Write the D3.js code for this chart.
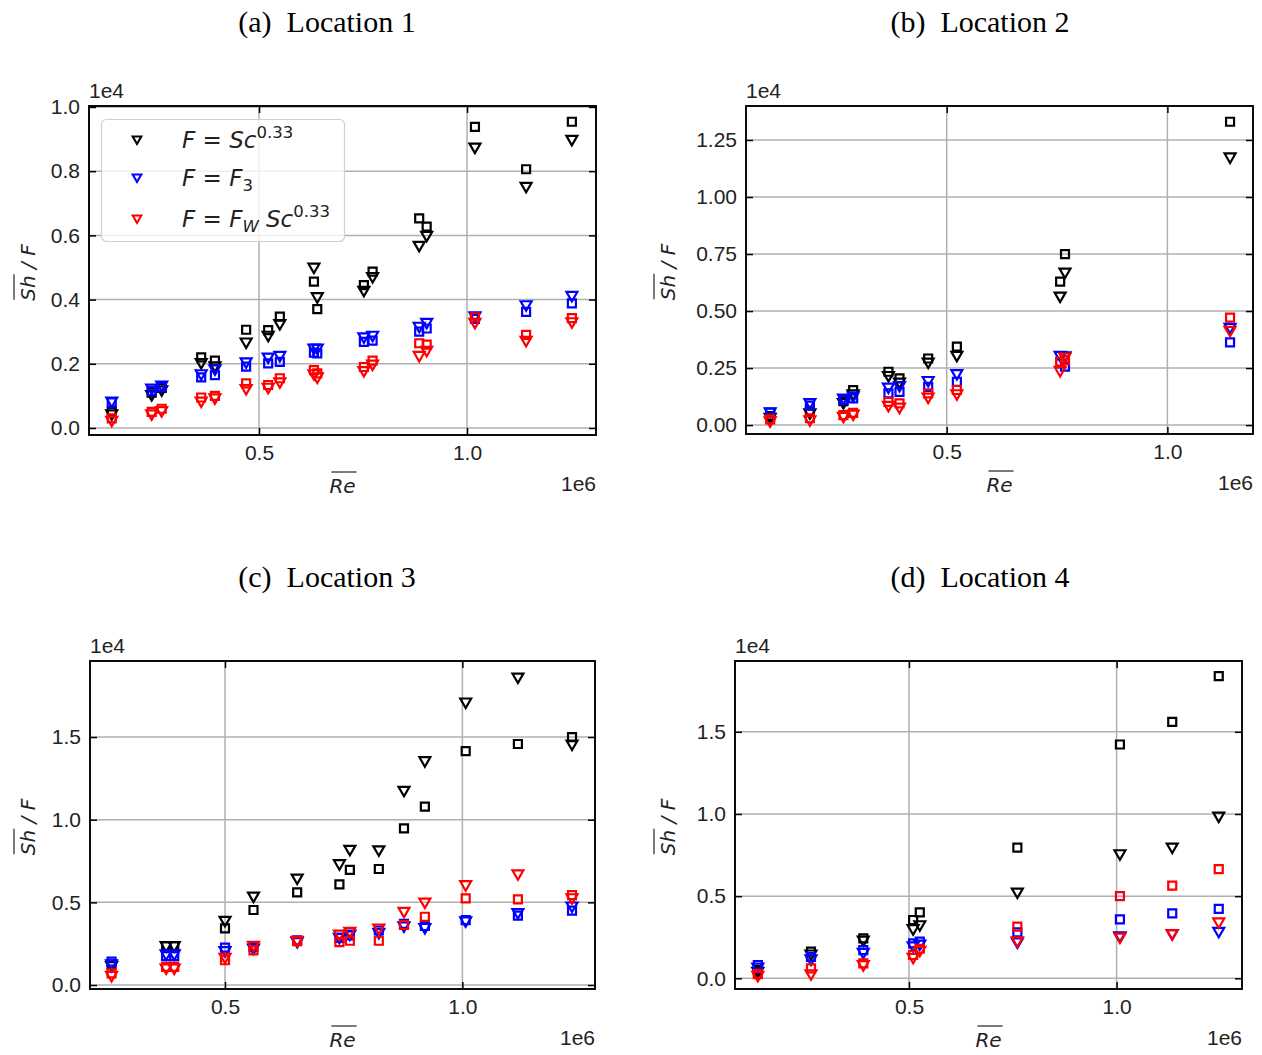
<!DOCTYPE html>
<html><head><meta charset="utf-8">
<script src="https://cdn.jsdelivr.net/npm/d3@7"></script>
<style>body{margin:0;background:#fff}</style>
</head><body>
<svg id="chart" width="1262" height="1055" xmlns="http://www.w3.org/2000/svg"></svg>
<script>
// ---------------- DATA (Re in 1e6, Sh/F in 1e4) ----------------
const panelTitles = ["(a)  Location 1", "(b)  Location 2", "(c)  Location 3", "(d)  Location 4"];
const seriesColors = ["#000000", "#0000ff", "#ff0000"];
const legendLabels = ["Sc", "F3", "FwSc"];
const xTickValues = [0.5, 1.0];
const yTicksA = [0, 0.2, 0.4, 0.6, 0.8, 1.0];
const yTicksB = [0, 0.25, 0.5, 0.75, 1.0, 1.25];
const yTicksC = [0, 0.5, 1.0, 1.5];
const yTicksD = [0, 0.5, 1.0, 1.5];

// Panel (a)
const reA       = [0.146, 0.242, 0.266, 0.361, 0.394, 0.469, 0.522, 0.550, 0.632, 0.640, 0.752, 0.773, 0.885, 0.903, 1.019, 1.142, 1.252];
const blackTriA = [0.045, 0.105, 0.120, 0.205, 0.195, 0.269, 0.290, 0.326, 0.502, 0.410, 0.430, 0.473, 0.570, 0.601, 0.876, 0.754, 0.900];
const blackSqA  = [0.050, 0.110, 0.125, 0.220, 0.210, 0.306, 0.305, 0.347, 0.456, 0.370, 0.445, 0.487, 0.653, 0.627, 0.938, 0.806, 0.954];
const blueTriA  = [0.085, 0.125, 0.135, 0.170, 0.185, 0.207, 0.222, 0.227, 0.250, 0.250, 0.285, 0.290, 0.318, 0.330, 0.350, 0.385, 0.414];
const blueSqA   = [0.080, 0.115, 0.128, 0.158, 0.165, 0.191, 0.201, 0.206, 0.235, 0.232, 0.268, 0.272, 0.300, 0.310, 0.340, 0.362, 0.388];
const redTriA   = [0.025, 0.045, 0.055, 0.085, 0.095, 0.124, 0.128, 0.145, 0.170, 0.160, 0.180, 0.200, 0.227, 0.243, 0.330, 0.274, 0.332];
const redSqA    = [0.030, 0.050, 0.060, 0.095, 0.100, 0.139, 0.134, 0.155, 0.180, 0.170, 0.190, 0.210, 0.264, 0.260, 0.345, 0.290, 0.342];

// Panel (b)
const reB       = [0.100, 0.190, 0.266, 0.288, 0.368, 0.393, 0.458, 0.523, 0.757, 0.768, 1.142];
const blackTriB = [0.035, 0.055, 0.100, 0.139, 0.219, 0.190, 0.278, 0.307, 0.567, 0.672, 1.177];
const blackSqB  = [0.040, 0.060, 0.105, 0.153, 0.234, 0.205, 0.292, 0.344, 0.629, 0.750, 1.330];
const blueTriB  = [0.060, 0.100, 0.120, 0.130, 0.168, 0.175, 0.197, 0.227, 0.307, 0.305, 0.430];
const blueSqB   = [0.055, 0.085, 0.110, 0.117, 0.139, 0.146, 0.168, 0.190, 0.270, 0.256, 0.363];
const redTriB   = [0.020, 0.025, 0.040, 0.050, 0.088, 0.080, 0.124, 0.139, 0.241, 0.300, 0.417];
const redSqB    = [0.025, 0.030, 0.044, 0.054, 0.102, 0.095, 0.139, 0.154, 0.278, 0.285, 0.471];

// Panel (c)
const reC       = [0.261, 0.376, 0.393, 0.500, 0.560, 0.652, 0.741, 0.763, 0.824, 0.877, 0.921, 1.007, 1.117, 1.231];
const blackTriC = [0.120, 0.240, 0.240, 0.393, 0.540, 0.649, 0.736, 0.823, 0.820, 1.180, 1.359, 1.714, 1.865, 1.460];
const blackSqC  = [0.125, 0.235, 0.235, 0.343, 0.454, 0.560, 0.609, 0.696, 0.702, 0.948, 1.079, 1.415, 1.458, 1.500];
const blueTriC  = [0.130, 0.190, 0.190, 0.210, 0.225, 0.265, 0.290, 0.310, 0.320, 0.360, 0.350, 0.390, 0.440, 0.480];
const blueSqC   = [0.141, 0.175, 0.175, 0.226, 0.230, 0.270, 0.285, 0.300, 0.330, 0.370, 0.357, 0.393, 0.420, 0.450];
const redTriC   = [0.060, 0.105, 0.105, 0.170, 0.242, 0.272, 0.310, 0.327, 0.347, 0.448, 0.504, 0.609, 0.675, 0.530];
const redSqC    = [0.070, 0.110, 0.110, 0.150, 0.210, 0.265, 0.260, 0.268, 0.268, 0.363, 0.413, 0.524, 0.518, 0.544];

// Panel (d)
const reD       = [0.136, 0.264, 0.390, 0.510, 0.526, 0.761, 1.008, 1.134, 1.246];
const blackTriD = [0.045, 0.150, 0.235, 0.304, 0.328, 0.527, 0.760, 0.801, 0.989];
const blackSqD  = [0.050, 0.162, 0.243, 0.355, 0.401, 0.795, 1.423, 1.561, 1.839];
const blueTriD  = [0.070, 0.120, 0.160, 0.200, 0.210, 0.223, 0.260, 0.274, 0.288];
const blueSqD   = [0.081, 0.130, 0.172, 0.213, 0.223, 0.280, 0.359, 0.395, 0.422];
const redTriD   = [0.020, 0.030, 0.085, 0.130, 0.172, 0.230, 0.253, 0.274, 0.345];
const redSqD    = [0.025, 0.060, 0.091, 0.142, 0.180, 0.314, 0.500, 0.564, 0.665];

// ---------------- LAYOUT ----------------
const layouts = [
  {left: 89,  right: 596,  top: 106, bottom: 435, titleX: 327, xDom: [0.0913, 1.310], yDom: [-0.0218, 1.003], yTicks: yTicksA, fmt: ".1f", ylabX: 35,
   re: reA, series: [blackTriA, blackSqA, blueTriA, blueSqA, redTriA, redSqA], legend: true},
  {left: 746, right: 1253, top: 106, bottom: 434, titleX: 980, xDom: [0.0452, 1.194], yDom: [-0.039, 1.399], yTicks: yTicksB, fmt: ".2f", ylabX: 675,
   re: reB, series: [blackTriB, blackSqB, blueTriB, blueSqB, redTriB, redSqB]},
  {left: 90,  right: 595,  top: 661, bottom: 989, titleX: 327, xDom: [0.2156, 1.2794], yDom: [-0.024, 1.96], yTicks: yTicksC, fmt: ".1f", ylabX: 35,
   re: reC, series: [blackTriC, blackSqC, blueTriC, blueSqC, redTriC, redSqC]},
  {left: 735, right: 1242, top: 661, bottom: 989, titleX: 980, xDom: [0.081, 1.302], yDom: [-0.065, 1.931], yTicks: yTicksD, fmt: ".1f", ylabX: 675,
   re: reD, series: [blackTriD, blackSqD, blueTriD, blueSqD, redTriD, redSqD]}
];

const svg = d3.select("#chart");
const SANS = "'Liberation Sans', Arial, sans-serif";
const MATH = "'DejaVu Sans', sans-serif";
const triPath = d3.symbol(d3.symbolTriangle, 52)();
const sqPath = d3.symbol(d3.symbolSquare, 64)();
const legTriPath = d3.symbol(d3.symbolTriangle, 32)();

function drawPanel(p, i) {
  const x = d3.scaleLinear().domain(p.xDom).range([p.left, p.right]);
  const y = d3.scaleLinear().domain(p.yDom).range([p.bottom, p.top]);
  const g = svg.append("g");

  // title
  g.append("text").attr("x", p.titleX).attr("y", p.top - 74)
    .attr("text-anchor", "middle").attr("font-family", "'Liberation Serif', 'Times New Roman', serif")
    .attr("font-size", 30).attr("xml:space", "preserve").style("white-space", "pre").text(panelTitles[i]);

  // grid
  g.append("g").selectAll("line").data(xTickValues).join("line")
    .attr("x1", d => x(d)).attr("x2", d => x(d)).attr("y1", p.top).attr("y2", p.bottom)
    .attr("stroke", "#b0b0b0").attr("stroke-width", 1.5);
  g.append("g").selectAll("line").data(p.yTicks).join("line")
    .attr("y1", d => y(d)).attr("y2", d => y(d)).attr("x1", p.left).attr("x2", p.right)
    .attr("stroke", "#b0b0b0").attr("stroke-width", 1.5);

  // axes (ticks inward)
  const ax = [
    g.append("g").attr("transform", `translate(0,${p.bottom})`)
      .call(d3.axisBottom(x).tickValues(xTickValues).tickFormat(d3.format(".1f")).tickSizeInner(-7).tickSizeOuter(0).tickPadding(10)),
    g.append("g").attr("transform", `translate(0,${p.top})`)
      .call(d3.axisTop(x).tickValues(xTickValues).tickFormat("").tickSizeInner(-7).tickSizeOuter(0)),
    g.append("g").attr("transform", `translate(${p.left},0)`)
      .call(d3.axisLeft(y).tickValues(p.yTicks).tickFormat(d3.format(p.fmt)).tickSizeInner(-7).tickSizeOuter(0).tickPadding(9)),
    g.append("g").attr("transform", `translate(${p.right},0)`)
      .call(d3.axisRight(y).tickValues(p.yTicks).tickFormat("").tickSizeInner(-7).tickSizeOuter(0))
  ];
  ax.forEach(a => {
    a.select(".domain").remove();
    a.attr("font-family", SANS).attr("font-size", 21);
    a.selectAll("line").attr("stroke", "#000").attr("stroke-width", 1.5);
    a.selectAll("text").attr("fill", "#222");
  });

  // frame
  g.append("rect").attr("x", p.left).attr("y", p.top).attr("width", p.right - p.left).attr("height", p.bottom - p.top)
    .attr("fill", "none").attr("stroke", "#000").attr("stroke-width", 1.9);

  // multipliers
  g.append("text").attr("x", p.left).attr("y", p.top - 8).attr("font-family", SANS).attr("font-size", 21).attr("fill", "#222").text("1e4");
  g.append("text").attr("x", p.right).attr("y", p.bottom + 56).attr("text-anchor", "end").attr("font-family", SANS).attr("font-size", 21).attr("fill", "#222").text("1e6");

  // x label
  const cx = (p.left + p.right) / 2;
  const xl = g.append("text").attr("x", cx).attr("y", p.bottom + 58).attr("text-anchor", "middle")
    .attr("font-family", MATH).attr("font-style", "italic").attr("font-size", 20).attr("fill", "#222").text("Re");
  const xw = xl.node().getComputedTextLength();
  g.append("line").attr("x1", cx - xw / 2 + 2).attr("x2", cx + xw / 2 + 1).attr("y1", p.bottom + 37).attr("y2", p.bottom + 37)
    .attr("stroke", "#222").attr("stroke-width", 1.2);

  // y label
  const cy = (p.top + p.bottom) / 2 + 2;
  const yg = g.append("g").attr("transform", `translate(${p.ylabX},${cy}) rotate(-90)`);
  const yt = yg.append("text").attr("x", 0).attr("y", 0).attr("text-anchor", "middle")
    .attr("font-family", MATH).attr("font-style", "italic").attr("font-size", 20).attr("fill", "#222");
  const shSpan = yt.append("tspan").text("Sh");
  yt.append("tspan").text(" / F");
  const full = yt.node().getComputedTextLength();
  const shW = shSpan.node().getComputedTextLength();
  yg.append("line").attr("x1", -full / 2 + 1).attr("x2", -full / 2 + shW + 1).attr("y1", -21).attr("y2", -21)
    .attr("stroke", "#222").attr("stroke-width", 1.2);

  // markers
  const plot = g.append("g");
  p.series.forEach((vals, si) => {
    const color = seriesColors[Math.floor(si / 2)];
    const isTri = si % 2 === 0;
    plot.append("g").selectAll("path").data(vals.map((v, k) => [p.re[k], v])).join("path")
      .attr("d", isTri ? triPath : sqPath)
      .attr("transform", d => `translate(${x(d[0])},${y(d[1])})` + (isTri ? " rotate(180)" : ""))
      .attr("fill", "none").attr("stroke", color).attr("stroke-width", 2.2);
  });

  if (p.legend) drawLegend(g);
}

function drawLegend(g) {
  const lg = g.append("g");
  lg.append("rect").attr("x", 101.5).attr("y", 119.5).attr("width", 243).attr("height", 122).attr("rx", 5)
    .attr("fill", "#fff").attr("fill-opacity", 0.8).attr("stroke", "#d0d0d0").attr("stroke-width", 1.2);
  const rows = [148, 186, 227];
  rows.forEach((by, k) => {
    lg.append("path").attr("d", legTriPath).attr("transform", `translate(137,${by - 9}) rotate(180)`)
      .attr("fill", "none").attr("stroke", seriesColors[k]).attr("stroke-width", 2.1);
    const t = lg.append("text").attr("x", 182).attr("y", by).attr("font-family", MATH).attr("font-size", 23).attr("fill", "#222");
    t.append("tspan").attr("font-style", "italic").text("F");
    t.append("tspan").text(" = ");
    if (legendLabels[k] === "Sc") {
      t.append("tspan").attr("font-style", "italic").text("Sc");
      t.append("tspan").attr("font-size", 16.5).attr("dy", -10).text("0.33");
    } else if (legendLabels[k] === "F3") {
      t.append("tspan").attr("font-style", "italic").text("F");
      t.append("tspan").attr("font-size", 16.5).attr("dy", 5).text("3");
    } else {
      t.append("tspan").attr("font-style", "italic").text("F");
      t.append("tspan").attr("font-style", "italic").attr("font-size", 16.5).attr("dy", 5).text("W");
      t.append("tspan").attr("font-style", "italic").attr("dy", -5).text(" Sc");
      t.append("tspan").attr("font-size", 16.5).attr("dy", -10).text("0.33");
    }
  });
}

layouts.forEach(drawPanel);
</script>
</body></html>
